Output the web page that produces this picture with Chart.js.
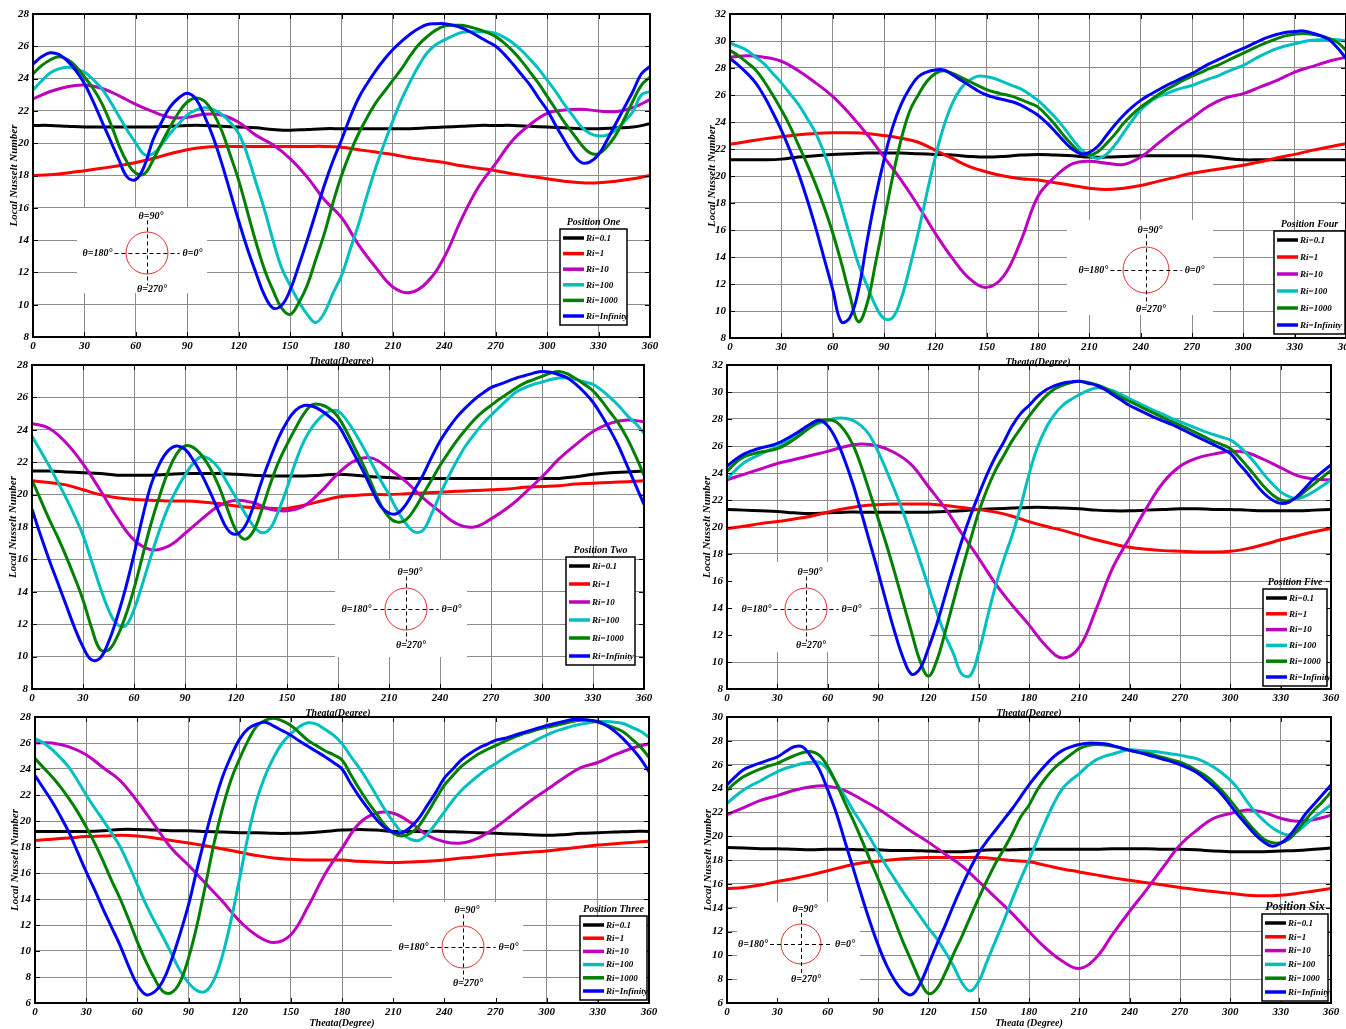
<!DOCTYPE html>
<html>
<head>
<meta charset="utf-8">
<script src="https://cdn.jsdelivr.net/npm/chart.js@4.4.0/dist/chart.umd.min.js"></script>
<style>
    body { margin: 0; background: #fff; width: 1346px; height: 1029px; overflow: hidden; position: relative; }
    canvas { position: absolute; }
</style>
</head>
<body>
<canvas id="c1"></canvas>
<canvas id="c2"></canvas>
<canvas id="c3"></canvas>
<canvas id="c4"></canvas>
<canvas id="c5"></canvas>
<canvas id="c6"></canvas>
<script>
// angulo theta (grados): cada 10 para las curvas suaves, cada 5 para las que oscilan
const angulos = [0, 10, 20, 30, 40, 50, 60, 70, 80, 90, 100, 110, 120, 130, 140, 150, 160, 170, 180,
    190, 200, 210, 220, 230, 240, 250, 260, 270, 280, 290, 300, 310, 320, 330, 340, 350, 360];
const angulosFinos = [0, 5, 10, 15, 20, 25, 30, 35, 40, 45, 50, 55, 60, 65, 70, 75, 80, 85, 90, 95,
    100, 105, 110, 115, 120, 125, 130, 135, 140, 145, 150, 155, 160, 165, 170, 175, 180, 185, 190, 195,
    200, 205, 210, 215, 220, 225, 230, 235, 240, 245, 250, 255, 260, 265, 270, 275, 280, 285, 290, 295,
    300, 305, 310, 315, 320, 325, 330, 335, 340, 345, 350, 355, 360];

const seriesNombres = ['Ri=0.1', 'Ri=1', 'Ri=10', 'Ri=100', 'Ri=1000', 'Ri=Infinity'];
const seriesColores = ['#000000', '#ff0000', '#bf00bf', '#00bfbf', '#008000', '#0000ff'];
const seriesAngulos = [angulos, angulos, angulos, angulosFinos, angulosFinos, angulosFinos];

// Position One
const pos1Ri01 = [21.1, 21.1, 21.05, 21.0, 21.0, 21.0, 21.0, 21.0, 21.05, 21.1, 21.1, 21.05, 21.0, 20.95, 20.85, 20.8, 20.85, 20.9, 20.9, 20.9, 20.9, 20.9, 20.9, 20.95, 21.0, 21.05, 21.1, 21.1, 21.1, 21.05, 21.0, 20.95, 20.9, 20.9, 20.95, 21.0, 21.2];
const pos1Ri1 = [18.0, 18.05, 18.15, 18.3, 18.45, 18.6, 18.8, 19.05, 19.35, 19.6, 19.75, 19.8, 19.8, 19.8, 19.8, 19.8, 19.8, 19.8, 19.75, 19.6, 19.45, 19.3, 19.1, 18.95, 18.8, 18.6, 18.45, 18.3, 18.1, 17.95, 17.8, 17.65, 17.55, 17.55, 17.65, 17.8, 18.0];
const pos1Ri10 = [22.75, 23.2, 23.5, 23.6, 23.4, 22.95, 22.4, 21.95, 21.6, 21.6, 21.8, 21.75, 21.3, 20.5, 19.9, 19.05, 17.9, 16.5, 15.4, 13.7, 12.3, 11.1, 10.75, 11.4, 12.95, 15.3, 17.3, 18.75, 20.2, 21.15, 21.85, 22.05, 22.1, 22.0, 21.95, 22.2, 22.7];
const pos1Ri100 = [23.3, 23.85, 24.35, 24.6, 24.7, 24.6, 24.4, 23.95, 23.4, 22.6,
    21.7, 20.8, 20.0, 19.3, 19.35, 19.9, 20.6, 21.2, 21.75, 22.05,
    22.2, 22.1, 21.8, 21.3, 20.6, 19.3, 17.6, 15.9, 14.0, 12.3,
    11.2, 10.2, 9.4, 8.9, 9.5, 10.7, 11.8, 13.4, 15.0, 16.8,
    18.5, 20.0, 21.4, 22.7, 23.8, 24.8, 25.6, 26.1, 26.4, 26.65,
    26.85, 26.9, 26.9, 26.9, 26.8, 26.55, 26.2, 25.75, 25.2, 24.6,
    23.9, 23.2, 22.4, 21.7, 21.0, 20.6, 20.45, 20.5, 20.8, 21.35,
    21.95, 23.0, 23.2];
const pos1Ri1000 = [24.3, 24.8, 25.15, 25.35, 25.2, 24.75, 24.1, 23.4, 22.5, 21.3,
    19.9, 18.8, 18.15, 18.1, 18.95, 20.0, 21.0, 21.9, 22.55, 22.8,
    22.6, 21.9, 20.8, 19.3, 17.7, 15.8, 13.9, 12.2, 10.9, 9.8,
    9.4, 10.1, 11.2, 12.8, 14.4, 16.3, 18.0, 19.4, 20.6, 21.6,
    22.5, 23.2, 23.9, 24.6, 25.4, 26.1, 26.6, 27.0, 27.25, 27.3,
    27.3, 27.2, 27.05, 26.85, 26.6, 26.2, 25.7, 25.1, 24.4, 23.7,
    22.9, 22.1, 21.3, 20.6, 19.9, 19.4, 19.35, 19.8, 20.5, 21.5,
    22.6, 23.6, 24.1];
const pos1RiInf = [24.9, 25.35, 25.6, 25.5, 25.1, 24.5, 23.7, 22.6, 21.4, 20.2,
    19.0, 17.9, 17.75, 18.6, 20.2, 21.3, 22.25, 22.8, 23.1, 22.75,
    21.7, 20.4, 18.8, 17.0, 15.2, 13.5, 12.0, 10.6, 9.8, 9.95,
    10.9, 12.4, 14.0, 15.7, 17.4, 18.9, 20.2, 21.6, 22.8, 23.7,
    24.5, 25.2, 25.8, 26.3, 26.75, 27.1, 27.35, 27.4, 27.4, 27.3,
    27.15, 26.9, 26.6, 26.3, 26.0, 25.5, 24.9, 24.25, 23.6, 22.8,
    22.05, 21.1, 20.2, 19.35, 18.8, 18.85, 19.3, 20.2, 21.2, 22.2,
    23.2, 24.3, 24.75];

// Position Four
const pos4Ri01 = [21.2, 21.2, 21.2, 21.25, 21.4, 21.5, 21.6, 21.65, 21.7, 21.7, 21.7, 21.65, 21.6, 21.55, 21.45, 21.4, 21.45, 21.55, 21.6, 21.55, 21.5, 21.4, 21.4, 21.45, 21.5, 21.5, 21.5, 21.5, 21.45, 21.3, 21.2, 21.2, 21.2, 21.2, 21.2, 21.2, 21.2];
const pos4Ri1 = [22.35, 22.55, 22.75, 22.9, 23.05, 23.15, 23.2, 23.2, 23.15, 23.0, 22.8, 22.5, 21.9, 21.3, 20.7, 20.3, 20.0, 19.8, 19.7, 19.5, 19.3, 19.1, 19.0, 19.1, 19.3, 19.6, 19.9, 20.2, 20.4, 20.6, 20.8, 21.05, 21.35, 21.6, 21.9, 22.15, 22.4];
const pos4Ri10 = [28.8, 28.9, 28.8, 28.5, 27.8, 26.9, 25.9, 24.6, 23.1, 21.4, 19.7, 17.8, 15.75, 13.9, 12.4, 11.75, 12.6, 15.2, 18.5, 19.95, 20.9, 21.1, 20.95, 20.85, 21.4, 22.4, 23.4, 24.3, 25.2, 25.8, 26.1, 26.6, 27.1, 27.7, 28.1, 28.5, 28.8];
const pos4Ri100 = [29.85, 29.6, 29.3, 28.8, 28.3, 27.6, 26.9, 26.1, 25.3, 24.3,
    23.2, 21.7, 19.9, 17.8, 15.6, 13.5, 11.9, 10.4, 9.45, 9.5,
    10.9, 13.2, 15.8, 18.7, 21.4, 23.7, 25.4, 26.5, 27.1, 27.4,
    27.35, 27.2, 26.95, 26.7, 26.45, 26.05, 25.6, 25.0, 24.35, 23.6,
    22.75, 22.0, 21.5, 21.3, 21.6, 22.3, 23.2, 24.1, 24.9, 25.45,
    25.85, 26.1, 26.35, 26.55, 26.7, 26.95, 27.2, 27.4, 27.7, 27.95,
    28.2, 28.55, 28.9, 29.2, 29.45, 29.65, 29.8, 29.95, 30.05, 30.1,
    30.1, 30.1, 30.0];
const pos4Ri1000 = [29.3, 28.9, 28.4, 27.85, 27.0, 26.0, 24.9, 23.7, 22.3, 20.9,
    19.4, 17.7, 15.8, 13.6, 11.2, 9.2, 10.5, 13.5, 16.7, 19.9,
    22.7, 24.8, 26.0, 27.0, 27.6, 27.8, 27.6, 27.3, 27.0, 26.7,
    26.4, 26.2, 26.05, 25.9, 25.65, 25.4, 25.1, 24.5, 23.8, 23.0,
    22.3, 21.7, 21.55, 21.8, 22.4, 23.1, 23.9, 24.55, 25.1, 25.55,
    26.0, 26.4, 26.75, 27.1, 27.4, 27.65, 27.95, 28.2, 28.5, 28.8,
    29.1, 29.4, 29.7, 29.95, 30.2, 30.4, 30.5, 30.55, 30.5, 30.4,
    30.2, 29.9, 29.3];
const pos4RiInf = [28.7, 28.2, 27.6, 26.9, 25.9, 24.7, 23.4, 21.9, 20.2, 18.3,
    16.2, 13.9, 11.6, 9.2, 9.5, 11.5, 15.1, 18.4, 21.2, 23.6,
    25.3, 26.5, 27.35, 27.7, 27.85, 27.85, 27.5, 27.1, 26.7, 26.3,
    26.0, 25.8, 25.65, 25.5, 25.25, 24.9, 24.5, 23.95, 23.3, 22.6,
    22.0, 21.65, 21.75, 22.2, 23.0, 23.8, 24.5, 25.1, 25.6, 26.0,
    26.35, 26.7, 27.0, 27.3, 27.6, 27.95, 28.3, 28.6, 28.9, 29.2,
    29.45, 29.75, 30.05, 30.3, 30.5, 30.65, 30.7, 30.75, 30.6, 30.4,
    30.1, 29.5, 28.7];

// Position Two
const pos2Ri01 = [21.45, 21.45, 21.4, 21.35, 21.3, 21.2, 21.2, 21.2, 21.25, 21.3, 21.3, 21.3, 21.25, 21.2, 21.15, 21.15, 21.15, 21.2, 21.25, 21.2, 21.1, 21.05, 21.0, 21.0, 21.0, 21.0, 21.0, 21.0, 21.0, 21.0, 21.0, 21.0, 21.1, 21.25, 21.35, 21.4, 21.45];
const pos2Ri1 = [20.85, 20.75, 20.6, 20.3, 20.0, 19.8, 19.7, 19.65, 19.6, 19.6, 19.55, 19.45, 19.3, 19.2, 19.15, 19.15, 19.35, 19.6, 19.85, 19.95, 20.0, 20.0, 20.05, 20.1, 20.15, 20.2, 20.25, 20.3, 20.35, 20.45, 20.5, 20.55, 20.65, 20.7, 20.75, 20.8, 20.85];
const pos2Ri10 = [24.4, 24.1, 23.2, 21.9, 20.3, 18.6, 17.2, 16.6, 16.8, 17.6, 18.5, 19.3, 19.65, 19.5, 19.1, 19.0, 19.3, 20.2, 21.3, 22.1, 22.25, 21.6, 20.8, 19.8, 18.95, 18.2, 18.0, 18.5, 19.2, 20.1, 21.1, 22.2, 23.1, 23.9, 24.4, 24.6, 24.5];
const pos2Ri100 = [23.6, 22.7, 21.8, 20.8, 19.8, 18.7, 17.5, 15.9, 14.3, 12.9,
    12.0, 11.9, 12.9, 14.5, 16.2, 17.8, 19.2, 20.3, 21.2, 21.95,
    22.35, 22.15, 21.6, 20.7, 19.8, 18.9, 18.1, 17.65, 17.9, 19.0,
    20.4, 22.0, 23.3, 24.2, 24.8, 25.15, 25.15, 24.6, 23.8, 22.9,
    21.9, 20.9, 20.0, 19.0, 18.2, 17.7, 17.8, 18.8, 20.0, 21.1,
    22.1, 23.0, 23.7, 24.35, 24.9, 25.4, 25.9, 26.35, 26.6, 26.8,
    26.95, 27.1, 27.2, 27.2, 27.1, 26.95, 26.8, 26.45, 26.0, 25.5,
    24.9, 24.4, 23.8];
const pos2Ri1000 = [20.9, 19.7, 18.5, 17.4, 16.2, 14.9, 13.5, 11.8, 10.45, 10.4,
    11.2, 12.5, 14.2, 16.2, 18.2, 19.9, 21.4, 22.5, 23.0, 22.9,
    22.4, 21.6, 20.5, 19.1, 17.8, 17.25, 17.7, 19.0, 20.6, 22.0,
    23.1, 24.1, 25.0, 25.55, 25.55, 25.3, 24.8, 23.9, 22.85, 21.8,
    20.6, 19.4, 18.6, 18.3, 18.45, 19.1, 20.0, 20.9, 21.8, 22.6,
    23.35, 24.0, 24.6, 25.1, 25.5, 25.9, 26.25, 26.6, 26.9, 27.1,
    27.3, 27.5, 27.6, 27.45, 27.15, 26.8, 26.4, 25.8, 25.1, 24.4,
    23.5, 22.4, 21.2];
const pos2RiInf = [19.1, 17.5, 16.0, 14.6, 13.2, 11.8, 10.6, 9.8, 9.9, 10.9,
    12.4, 14.2, 16.3, 18.6, 20.6, 21.9, 22.7, 23.0, 22.8, 22.1,
    21.2, 20.1, 18.9, 17.85, 17.55, 18.0, 19.2, 20.8, 22.2, 23.5,
    24.5, 25.2, 25.5, 25.45, 25.2, 24.8, 24.3, 23.4, 22.4, 21.4,
    20.3, 19.3, 18.85, 18.85, 19.4, 20.3, 21.2, 22.3, 23.3, 24.1,
    24.8, 25.35, 25.85, 26.25, 26.6, 26.8, 27.0, 27.2, 27.35, 27.5,
    27.6, 27.55, 27.4, 27.2, 26.8, 26.3, 25.7, 24.9, 24.0, 23.0,
    21.8, 20.6, 19.4];

// Position Five
const pos5Ri01 = [21.3, 21.25, 21.2, 21.15, 21.05, 21.0, 21.05, 21.1, 21.1, 21.1, 21.1, 21.1, 21.1, 21.15, 21.2, 21.3, 21.35, 21.4, 21.45, 21.45, 21.4, 21.35, 21.25, 21.2, 21.2, 21.25, 21.3, 21.35, 21.35, 21.3, 21.3, 21.25, 21.2, 21.2, 21.2, 21.25, 21.3];
const pos5Ri1 = [19.9, 20.05, 20.25, 20.4, 20.6, 20.8, 21.1, 21.35, 21.55, 21.65, 21.7, 21.7, 21.7, 21.6, 21.45, 21.3, 21.1, 20.8, 20.4, 20.05, 19.75, 19.4, 19.05, 18.75, 18.5, 18.35, 18.25, 18.2, 18.15, 18.15, 18.2, 18.4, 18.7, 19.05, 19.35, 19.65, 19.9];
const pos5Ri10 = [23.5, 23.9, 24.3, 24.7, 25.0, 25.3, 25.6, 25.95, 26.15, 26.0, 25.5, 24.6, 23.0, 21.4, 19.5, 17.7, 15.8, 14.2, 12.75, 11.2, 10.3, 11.1, 13.9, 17.0, 19.2, 21.4, 23.3, 24.5, 25.1, 25.4, 25.6, 25.5, 25.0, 24.4, 23.8, 23.55, 23.5];
const pos5Ri100 = [23.55, 24.2, 24.75, 25.1, 25.4, 25.7, 25.95, 26.3, 26.65, 27.1,
    27.45, 27.7, 27.9, 28.05, 28.05, 27.9, 27.5, 26.8, 25.6, 24.2,
    22.7, 21.1, 19.3, 17.5, 15.6, 13.7, 12.0, 10.6, 9.1, 9.0,
    10.7, 13.2, 15.6, 17.6, 19.4, 21.5, 23.9, 25.9, 27.3, 28.3,
    29.0, 29.45, 29.8, 30.1, 30.3, 30.25, 30.1, 29.8, 29.5, 29.2,
    28.9, 28.6, 28.35, 28.05, 27.8, 27.55, 27.3, 27.05, 26.85, 26.65,
    26.45, 26.0, 25.4, 24.7, 23.9, 23.2, 22.6, 22.25, 22.1, 22.3,
    22.65, 23.05, 23.5];
const pos5Ri1000 = [24.1, 24.75, 25.2, 25.4, 25.55, 25.65, 25.8, 26.1, 26.5, 26.95,
    27.4, 27.8, 27.95, 27.8, 27.15, 26.1, 24.5, 22.6, 20.65, 18.7,
    16.6, 14.4, 12.2, 10.1, 8.95, 10.1, 12.2, 14.5, 16.8, 19.0,
    21.1, 22.8, 24.2, 25.3, 26.4, 27.3, 28.2, 29.0, 29.7, 30.2,
    30.5, 30.7, 30.8, 30.7, 30.55, 30.3, 29.95, 29.6, 29.3, 29.0,
    28.7, 28.4, 28.1, 27.8, 27.55, 27.25, 26.95, 26.65, 26.35, 26.1,
    25.8, 25.2, 24.5, 23.75, 23.0, 22.4, 22.0, 21.95, 22.2, 22.7,
    23.2, 23.7, 24.2];
const pos5RiInf = [24.5, 25.0, 25.4, 25.65, 25.85, 26.0, 26.2, 26.5, 26.85, 27.25,
    27.65, 27.9, 27.5, 26.5, 25.0, 23.2, 21.1, 18.9, 16.7, 14.4,
    12.2, 10.3, 9.1, 9.5, 11.0, 12.8, 14.9, 17.0, 19.0, 20.8,
    22.4, 23.9, 25.2, 26.3, 27.5, 28.4, 29.0, 29.65, 30.15, 30.45,
    30.65, 30.75, 30.8, 30.65, 30.5, 30.2, 29.8, 29.4, 29.0, 28.7,
    28.4, 28.1, 27.85, 27.6, 27.3, 27.0, 26.7, 26.4, 26.1, 25.8,
    25.45, 24.7, 24.0, 23.2, 22.5, 22.0, 21.75, 21.85, 22.3, 22.95,
    23.6, 24.1, 24.6];

// Position Three
const pos3Ri01 = [19.2, 19.2, 19.2, 19.2, 19.25, 19.35, 19.35, 19.3, 19.25, 19.25, 19.2, 19.15, 19.1, 19.1, 19.05, 19.05, 19.1, 19.2, 19.3, 19.35, 19.3, 19.2, 19.2, 19.2, 19.2, 19.15, 19.1, 19.05, 19.0, 18.95, 18.9, 18.95, 19.05, 19.1, 19.15, 19.2, 19.2];
const pos3Ri1 = [18.5, 18.6, 18.7, 18.8, 18.85, 18.9, 18.85, 18.7, 18.5, 18.3, 18.1, 17.85, 17.6, 17.35, 17.15, 17.05, 17.0, 17.0, 17.0, 16.9, 16.85, 16.8, 16.85, 16.9, 17.0, 17.15, 17.25, 17.4, 17.5, 17.6, 17.7, 17.85, 18.0, 18.15, 18.25, 18.35, 18.45];
const pos3Ri10 = [26.0, 26.0, 25.7, 25.1, 24.1, 23.1, 21.5, 19.7, 17.9, 16.6, 15.2, 13.8, 12.3, 11.2, 10.65, 11.25, 13.4, 15.9, 17.9, 19.8, 20.6, 20.6, 19.9, 18.9, 18.4, 18.3, 18.7, 19.5, 20.5, 21.5, 22.4, 23.3, 24.1, 24.5, 25.1, 25.6, 25.95];
const pos3Ri100 = [26.35, 26.0, 25.5, 24.85, 24.1, 23.1, 22.0, 21.0, 20.05, 19.05,
    18.0, 16.6, 15.1, 13.6, 12.3, 11.1, 9.8, 8.5, 7.55, 6.95,
    6.9, 7.8, 9.7, 12.4, 15.6, 18.9, 21.6, 23.5, 24.9, 26.0,
    26.7, 27.25, 27.55, 27.45, 27.05, 26.6, 25.95, 25.0, 24.1, 23.1,
    22.0, 20.9, 19.95, 19.1, 18.6, 18.5, 19.0, 19.8, 20.7, 21.6,
    22.35, 22.95, 23.5, 24.0, 24.4, 24.85, 25.25, 25.6, 25.95, 26.3,
    26.6, 26.9, 27.1, 27.3, 27.45, 27.55, 27.65, 27.65, 27.6, 27.5,
    27.2, 26.9, 26.45];
const pos3Ri1000 = [24.8, 24.1, 23.4, 22.6, 21.7, 20.7, 19.55, 18.3, 16.9, 15.4,
    14.0, 12.4, 10.7, 9.2, 7.9, 6.9, 6.8, 7.6, 9.45, 12.0,
    15.1, 18.3, 21.0, 23.2, 24.8, 26.2, 27.3, 27.75, 27.9, 27.7,
    27.35, 26.8, 26.2, 25.8, 25.4, 25.1, 24.7, 23.6, 22.5, 21.5,
    20.6, 19.7, 19.05, 18.85, 19.05, 19.6, 20.6, 21.7, 22.75, 23.5,
    24.2, 24.7, 25.15, 25.5, 25.8, 26.1, 26.4, 26.65, 26.85, 27.05,
    27.2, 27.35, 27.5, 27.65, 27.75, 27.75, 27.6, 27.4, 27.15, 26.85,
    26.3, 25.7, 24.9];
const pos3RiInf = [23.5, 22.5, 21.5, 20.35, 19.1, 17.6, 16.1, 14.7, 13.2, 11.8,
    10.4, 8.8, 7.4, 6.65, 6.85, 7.7, 9.3, 11.3, 13.55, 16.3,
    18.9, 21.3, 23.4, 25.0, 26.3, 27.1, 27.45, 27.6, 27.3, 26.95,
    26.6, 26.15, 25.75, 25.35, 24.95, 24.5, 24.0, 22.9, 21.9, 21.0,
    20.15, 19.5, 19.15, 19.1, 19.5, 20.2, 21.2, 22.2, 23.3, 24.0,
    24.7, 25.2, 25.6, 25.9, 26.2, 26.35, 26.55, 26.75, 26.95, 27.15,
    27.35, 27.5, 27.65, 27.8, 27.8, 27.75, 27.65, 27.35, 26.9, 26.3,
    25.6, 24.8, 23.8];

// Position Six
const pos6Ri01 = [19.05, 19.0, 18.95, 18.95, 18.9, 18.85, 18.9, 18.9, 18.85, 18.85, 18.8, 18.8, 18.75, 18.7, 18.7, 18.8, 18.85, 18.85, 18.9, 18.9, 18.9, 18.9, 18.9, 18.95, 18.95, 18.95, 18.9, 18.9, 18.85, 18.75, 18.7, 18.7, 18.7, 18.75, 18.8, 18.9, 19.0];
const pos6Ri1 = [15.6, 15.7, 15.9, 16.2, 16.45, 16.75, 17.1, 17.45, 17.75, 17.9, 18.05, 18.15, 18.2, 18.2, 18.2, 18.2, 18.1, 17.95, 17.85, 17.55, 17.25, 17.0, 16.75, 16.5, 16.3, 16.1, 15.9, 15.7, 15.5, 15.35, 15.2, 15.05, 15.0, 15.05, 15.2, 15.4, 15.6];
const pos6Ri10 = [21.8, 22.4, 23.0, 23.4, 23.85, 24.15, 24.2, 23.85, 23.1, 22.3, 21.35, 20.4, 19.5, 18.5, 17.5, 16.2, 14.85, 13.5, 12.0, 10.6, 9.5, 8.9, 9.8, 11.8, 13.7, 15.5, 17.4, 19.25, 20.5, 21.5, 21.9, 22.2, 22.0, 21.5, 21.25, 21.4, 21.75];
const pos6Ri100 = [22.75, 23.35, 23.9, 24.3, 24.65, 25.05, 25.4, 25.7, 25.9, 26.1,
    26.2, 26.2, 25.6, 24.5, 23.4, 22.2, 21.1, 19.9, 18.7, 17.5,
    16.4, 15.3, 14.3, 13.3, 12.3, 11.4, 10.3, 9.1, 7.7, 7.0,
    7.8, 9.5, 11.2, 12.9, 14.7, 16.4, 18.0, 19.7, 21.3, 22.8,
    24.0, 24.7, 25.25, 25.9, 26.4, 26.7, 26.9, 27.1, 27.25, 27.2,
    27.15, 27.1, 27.0, 26.9, 26.8, 26.65, 26.5, 26.2, 25.8, 25.3,
    24.7, 23.9, 22.9, 22.0, 21.3, 20.7, 20.3, 20.1, 20.4, 21.0,
    21.6, 22.1, 22.65];
const pos6Ri1000 = [23.85, 24.5, 25.0, 25.35, 25.65, 25.9, 26.1, 26.45, 26.75, 27.0,
    27.1, 26.8, 25.85, 24.5, 22.9, 21.4, 19.8, 18.1, 16.45, 14.7,
    12.9, 11.1, 9.5, 7.9, 6.8, 7.2, 8.5, 10.1, 11.6, 13.2,
    14.8, 16.3, 17.7, 18.9, 20.2, 21.6, 22.6, 23.9, 24.9, 25.7,
    26.3, 26.85, 27.35, 27.6, 27.7, 27.65, 27.55, 27.4, 27.2, 27.05,
    26.95, 26.8, 26.6, 26.4, 26.2, 25.9, 25.5, 25.1, 24.5, 23.8,
    23.0, 22.1, 21.2, 20.4, 19.75, 19.45, 19.45, 19.75, 20.5, 21.4,
    22.2, 22.9, 23.7];
const pos6RiInf = [24.3, 25.0, 25.6, 25.9, 26.15, 26.4, 26.65, 27.1, 27.5, 27.5,
    26.7, 25.6, 23.9, 22.0, 19.7, 17.4, 15.1, 12.9, 10.9, 9.2,
    7.9, 7.0, 6.7, 7.6, 9.2, 10.9, 12.5, 14.2, 15.8, 17.3,
    18.6, 19.6, 20.5, 21.4, 22.3, 23.3, 24.3, 25.2, 26.0, 26.7,
    27.2, 27.5, 27.7, 27.8, 27.8, 27.75, 27.6, 27.4, 27.2, 27.05,
    26.85, 26.65, 26.45, 26.25, 26.0, 25.7, 25.35, 24.8, 24.2, 23.5,
    22.6, 21.7, 20.9, 20.1, 19.5, 19.15, 19.4, 20.0, 20.9, 21.9,
    22.7, 23.5, 24.3];

const fuenteFamilia = '"Liberation Serif", "Times New Roman", serif';

// posicion de cada panel en la pagina (pixeles)
const paneles = [
    { id: 'c1', left: 0, top: 0, ancho: 662, alto: 372, ejeY: 33, padTop: 14, padRight: 12, ejeX: 35, tituloXPad: 5, tituloYPad: 8,
      yMin: 8, yMax: 28, titulo: 'Position One', tituloX: 'Theata(Degree)',
      series: [pos1Ri01, pos1Ri1, pos1Ri10, pos1Ri100, pos1Ri1000, pos1RiInf],
      leyenda: { x: 560, y: 229, w: 67, h: 96, tam: 10 },
      diagrama: { cx: 147, cy: 253, r: 21, caja: [77, 208, 207, 293] } },
    { id: 'c2', left: 690, top: 0, ancho: 656, alto: 372, ejeY: 40, padTop: 14, padRight: 0, ejeX: 34, tituloXPad: 4, tituloYPad: 16,
      yMin: 8, yMax: 32, titulo: 'Position Four', tituloX: 'Theata(Degree)',
      series: [pos4Ri01, pos4Ri1, pos4Ri10, pos4Ri100, pos4Ri1000, pos4RiInf],
      leyenda: { x: 1274, y: 231, w: 71, h: 103, tam: 10 },
      diagrama: { cx: 1146, cy: 270, r: 23, caja: [1067, 220, 1213, 315] } },
    { id: 'c3', left: 0, top: 351, ancho: 660, alto: 372, ejeY: 32, padTop: 14, padRight: 16, ejeX: 34, tituloXPad: 4, tituloYPad: 7,
      yMin: 8, yMax: 28, titulo: 'Position Two', tituloX: 'Theata(Degree)',
      series: [pos2Ri01, pos2Ri1, pos2Ri10, pos2Ri100, pos2Ri1000, pos2RiInf],
      leyenda: { x: 566, y: 557, w: 69, h: 108, tam: 10 },
      diagrama: { cx: 406, cy: 609, r: 21, caja: [335, 560, 467, 657] } },
    { id: 'c4', left: 690, top: 351, ancho: 656, alto: 372, ejeY: 37, padTop: 14, padRight: 15, ejeX: 34, tituloXPad: 4, tituloYPad: 11,
      yMin: 8, yMax: 32, titulo: 'Position Five', tituloX: 'Theata(Degree)',
      series: [pos5Ri01, pos5Ri1, pos5Ri10, pos5Ri100, pos5Ri1000, pos5RiInf],
      leyenda: { x: 1263, y: 589, w: 64, h: 97, tam: 10 },
      diagrama: { cx: 806, cy: 609, r: 21, caja: [728, 562, 870, 652] } },
    { id: 'c5', left: 0, top: 703, ancho: 660, alto: 326, ejeY: 35, padTop: 14, padRight: 11, ejeX: 26, tituloXPad: 0, tituloYPad: 9,
      yMin: 6, yMax: 28, titulo: 'Position Three', tituloX: 'Theata(Degree)',
      series: [pos3Ri01, pos3Ri1, pos3Ri10, pos3Ri100, pos3Ri1000, pos3RiInf],
      leyenda: { x: 580, y: 916, w: 67, h: 84, tam: 10 },
      diagrama: { cx: 463, cy: 947, r: 21, caja: [392, 902, 523, 1002] } },
    { id: 'c6', left: 690, top: 703, ancho: 656, alto: 326, ejeY: 37, padTop: 14, padRight: 15, ejeX: 26, tituloXPad: 0, tituloYPad: 12,
      yMin: 6, yMax: 30, titulo: 'Position Six', tituloX: 'Theata (Degree)',
      series: [pos6Ri01, pos6Ri1, pos6Ri10, pos6Ri100, pos6Ri1000, pos6RiInf],
      leyenda: { x: 1262, y: 914, w: 66, h: 87, tam: 12 },
      diagrama: { cx: 801, cy: 944, r: 20, caja: [737, 902, 860, 1002] } }
];

paneles.forEach(function (panel) {
    crearGrafica(panel);
});

function fuente(tam) {
    return { family: fuenteFamilia, size: tam, style: 'italic', weight: 'bold' };
}

function crearGrafica(panel) {
    let canvas = document.getElementById(panel.id);
    canvas.width = panel.ancho;
    canvas.height = panel.alto;
    canvas.style.left = panel.left + 'px';
    canvas.style.top = panel.top + 'px';

    new Chart(canvas.getContext('2d'), {
        type: 'line',
        data: {
            datasets: panel.series.map(function (valores, i) {
                let xs = seriesAngulos[i];
                return {
                    label: seriesNombres[i],
                    data: valores.map(function (v, j) {
                        return { x: xs[j], y: v };
                    }),
                    borderColor: seriesColores[i],
                    backgroundColor: seriesColores[i],
                    borderWidth: 3,
                    pointRadius: 0,
                    tension: 0.4,
                    fill: false,
                    order: 5 - i
                }
            })
        },
        options: {
            responsive: false,
            animation: false,
            events: [],
            layout: { padding: { top: panel.padTop, right: panel.padRight, left: 0, bottom: 0 } },
            plugins: {
                legend: { display: false },
                tooltip: { enabled: false }
            },
            scales: {
                x: {
                    type: 'linear',
                    min: 0,
                    max: 360,
                    ticks: { stepSize: 30, autoSkip: false, maxRotation: 0, padding: 3, color: '#000', font: fuente(11) },
                    grid: { color: '#8c8c8c', lineWidth: 1, drawTicks: false },
                    border: { display: false },
                    title: { display: true, text: panel.tituloX, color: '#000', font: fuente(10), padding: { top: 0, bottom: panel.tituloXPad } },
                    afterFit: function (scale) {
                        scale.height = panel.ejeX;
                        scale.paddingLeft = 0;
                        scale.paddingRight = 0;
                    }
                },
                y: {
                    min: panel.yMin,
                    max: panel.yMax,
                    ticks: { stepSize: 2, padding: 4, color: '#000', font: fuente(11) },
                    grid: { color: '#8c8c8c', lineWidth: 1, drawTicks: false },
                    border: { display: false },
                    title: { display: true, text: 'Local Nusselt Number', color: '#000', font: fuente(11), padding: { top: panel.tituloYPad, bottom: 0 } },
                    afterFit: function (scale) {
                        scale.width = panel.ejeY;
                        scale.paddingTop = 0;
                        scale.paddingBottom = 0;
                    }
                }
            }
        },
        plugins: [crearPluginMarco(panel)]
    });
}

function crearPluginMarco(panel) {
    return {
        id: 'marco' + panel.id,
        beforeDatasetsDraw: function (chart) {
            dibujarDiagrama(chart.ctx, panel);
        },
        afterDatasetsDraw: function (chart) {
            let ctx = chart.ctx;
            let area = chart.chartArea;
            let xs = chart.scales.x;
            let ys = chart.scales.y;

            ctx.save();
            ctx.strokeStyle = '#000';
            ctx.lineWidth = 1;
            ctx.beginPath();
            xs.ticks.forEach(function (t) {
                let px = Math.round(xs.getPixelForValue(t.value)) + 0.5;
                ctx.moveTo(px, area.top);
                ctx.lineTo(px, area.top + 5);
                ctx.moveTo(px, area.bottom);
                ctx.lineTo(px, area.bottom - 5);
            });
            ys.ticks.forEach(function (t) {
                let py = Math.round(ys.getPixelForValue(t.value)) + 0.5;
                ctx.moveTo(area.left, py);
                ctx.lineTo(area.left + 5, py);
                ctx.moveTo(area.right, py);
                ctx.lineTo(area.right - 5, py);
            });
            ctx.stroke();

            ctx.lineWidth = 2;
            ctx.strokeRect(area.left, area.top, area.right - area.left, area.bottom - area.top);
            ctx.restore();

            dibujarLeyenda(ctx, panel);
        }
    };
}

function dibujarLeyenda(ctx, panel) {
    let l = panel.leyenda;
    let x = l.x - panel.left;
    let y = l.y - panel.top;

    ctx.save();
    ctx.fillStyle = '#fff';
    ctx.fillRect(x, y, l.w, l.h);
    ctx.strokeStyle = '#000';
    ctx.lineWidth = 1.5;
    ctx.strokeRect(x, y, l.w, l.h);

    ctx.fillStyle = '#000';
    ctx.font = 'italic bold ' + l.tam + 'px ' + fuenteFamilia;
    ctx.textAlign = 'center';
    ctx.textBaseline = 'middle';
    ctx.fillText(panel.titulo, x + l.w / 2, y - 7);

    let paso = (l.h - 18) / 5;
    ctx.font = 'italic bold 9px ' + fuenteFamilia;
    ctx.textAlign = 'left';
    seriesNombres.forEach(function (nombre, i) {
        let yy = y + 9 + i * paso;
        ctx.strokeStyle = seriesColores[i];
        ctx.lineWidth = 3.5;
        ctx.beginPath();
        ctx.moveTo(x + 3, yy);
        ctx.lineTo(x + 24, yy);
        ctx.stroke();
        ctx.fillStyle = '#000';
        ctx.fillText(nombre, x + 26, yy + 0.5);
    });
    ctx.restore();
}

function dibujarDiagrama(ctx, panel) {
    let d = panel.diagrama;
    let cx = d.cx - panel.left;
    let cy = d.cy - panel.top;
    let brazo = d.r * 1.55;

    ctx.save();
    ctx.fillStyle = '#fff';
    ctx.fillRect(d.caja[0] - panel.left, d.caja[1] - panel.top, d.caja[2] - d.caja[0], d.caja[3] - d.caja[1]);

    ctx.strokeStyle = '#e03030';
    ctx.lineWidth = 1;
    ctx.beginPath();
    ctx.arc(cx, cy, d.r, 0, 2 * Math.PI);
    ctx.stroke();

    ctx.strokeStyle = '#000';
    ctx.setLineDash([4, 3]);
    ctx.beginPath();
    ctx.moveTo(cx - brazo, cy + 0.5);
    ctx.lineTo(cx + brazo, cy + 0.5);
    ctx.moveTo(cx + 0.5, cy - brazo);
    ctx.lineTo(cx + 0.5, cy + brazo);
    ctx.stroke();
    ctx.setLineDash([]);

    ctx.fillStyle = '#000';
    ctx.font = 'italic bold 10px ' + fuenteFamilia;
    ctx.textBaseline = 'middle';
    ctx.textAlign = 'center';
    ctx.fillText('θ=90°', cx + 4, cy - brazo - 4);
    ctx.fillText('θ=270°', cx + 5, cy + brazo + 4);
    ctx.textAlign = 'right';
    ctx.fillText('θ=180°', cx - brazo - 2, cy);
    ctx.textAlign = 'left';
    ctx.fillText('θ=0°', cx + brazo + 3, cy);
    ctx.restore();
}
</script>
</body>
</html>
